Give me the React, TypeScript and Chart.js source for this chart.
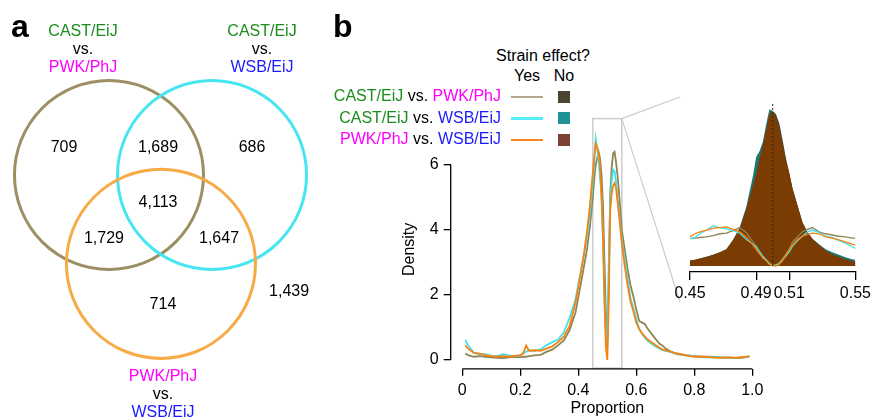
import React, { useEffect, useRef } from "react";
import { Chart, registerables } from "chart.js";
Chart.register(...registerables);

const FONT = '"Liberation Sans", Arial, Helvetica, sans-serif';
const GREEN = "#1c8c1c";
const MAGENTA = "#ff00ff";
const BLUE = "#1a1aff";

// ---------------- Panel a : Venn diagram ----------------
const VENN_CENTER_X = [0, 1.09, 0.55];
const VENN_CENTER_Y = [0, 0, -0.94];
const VENN_RADIUS = [1, 1, 1];
const VENN_COLORS = ["#9d8f64", "#45e6f2", "#f6ab46"];
const VENN_COUNTS = ["709", "1,689", "686", "4,113", "1,729", "1,647", "714", "1,439"];
const VENN_COUNT_X = [-0.476, 0.519, 1.513, 0.519, -0.053, 1.164, 0.571, 1.905];
const VENN_COUNT_Y = [0.286, 0.286, 0.286, -0.296, -0.677, -0.677, -1.376, -1.238];
const VENN_X_RANGE = [-1.153, 2.444];
const VENN_Y_RANGE = [-2.571, 1.852];

// ---------------- Panel b : density ----------------
const PROPORTION = [
  0.01, 0.02, 0.04, 0.06, 0.08, 0.10, 0.12, 0.14, 0.16, 0.18,
  0.20, 0.21, 0.22, 0.23, 0.25, 0.27, 0.29, 0.31, 0.33, 0.35,
  0.37, 0.39, 0.41, 0.42, 0.43, 0.44, 0.45, 0.455, 0.46, 0.465,
  0.47, 0.475, 0.48, 0.485, 0.49, 0.495, 0.50, 0.505, 0.51, 0.515,
  0.52, 0.525, 0.53, 0.535, 0.54, 0.55, 0.56, 0.57, 0.58, 0.59,
  0.60, 0.61, 0.62, 0.63, 0.64, 0.66, 0.68, 0.69, 0.70, 0.72,
  0.74, 0.77, 0.80, 0.83, 0.86, 0.89, 0.92, 0.95, 0.98, 0.99,
];
const DENS_PWK_WSB = [
  0.45, 0.35, 0.22, 0.20, 0.14, 0.12, 0.10, 0.12, 0.10, 0.13,
  0.15, 0.20, 0.45, 0.28, 0.30, 0.28, 0.35, 0.42, 0.55, 0.72,
  1.05, 1.75, 2.75, 3.30, 3.95, 4.75, 5.75, 6.25, 6.65, 6.55,
  6.35, 6.00, 5.00, 3.80, 1.90, 0.40, 0.00, 1.80, 4.60, 5.10,
  5.35, 5.44, 5.30, 4.90, 4.50, 3.60, 2.90, 2.30, 1.80, 1.50,
  1.15, 0.95, 0.82, 0.72, 0.62, 0.50, 0.38, 0.32, 0.30, 0.25,
  0.20, 0.15, 0.10, 0.10, 0.08, 0.07, 0.08, 0.07, 0.10, 0.12,
];
const DENS_CAST_WSB = [
  0.62, 0.45, 0.22, 0.18, 0.18, 0.13, 0.12, 0.18, 0.14, 0.12,
  0.14, 0.22, 0.25, 0.30, 0.28, 0.33, 0.45, 0.55, 0.62, 0.85,
  1.30, 1.85, 2.80, 3.25, 3.80, 4.50, 5.50, 6.10, 6.80, 6.50,
  6.10, 5.60, 5.10, 3.80, 2.00, 0.90, 0.40, 3.00, 4.80, 5.50,
  5.85, 5.80, 5.50, 5.00, 4.60, 3.70, 3.10, 2.50, 1.90, 1.60,
  1.25, 0.95, 0.80, 0.68, 0.58, 0.45, 0.35, 0.30, 0.28, 0.24,
  0.20, 0.15, 0.12, 0.08, 0.09, 0.08, 0.06, 0.07, 0.09, 0.12,
];
const DENS_CAST_PWK = [
  0.20, 0.15, 0.10, 0.12, 0.10, 0.08, 0.07, 0.06, 0.08, 0.10,
  0.09, 0.10, 0.10, 0.12, 0.14, 0.16, 0.25, 0.32, 0.45, 0.60,
  0.92, 1.45, 2.40, 2.90, 3.40, 4.10, 5.00, 5.55, 6.00, 6.20,
  6.40, 6.20, 5.70, 4.80, 3.10, 1.50, 0.60, 2.50, 5.10, 5.90,
  6.35, 6.40, 6.10, 5.70, 5.20, 4.00, 3.40, 2.80, 2.30, 1.95,
  1.55, 1.20, 1.15, 1.10, 0.95, 0.72, 0.50, 0.45, 0.36, 0.25,
  0.18, 0.14, 0.12, 0.10, 0.10, 0.08, 0.07, 0.06, 0.09, 0.11,
];
const X_RANGE = [-0.04, 1.04];
const Y_RANGE = [-0.27, 7.07];
const X_TICKS = [0, 0.2, 0.4, 0.6, 0.8, 1.0];
const X_TICK_LABELS = ["0", "0.2", "0.4", "0.6", "0.8", "1.0"];
const Y_TICKS = [0, 2, 4, 6];
const Y_TICK_LABELS = ["0", "2", "4", "6"];
const ZOOM_X = [0.45, 0.55];
const ZOOM_Y = [-0.25, 7.42];

// ---------------- Inset ----------------
const INSET_X = [
  0.450, 0.453, 0.456, 0.460, 0.464, 0.468, 0.472, 0.476, 0.480, 0.484,
  0.488, 0.490, 0.492, 0.494, 0.496, 0.498, 0.500, 0.502, 0.504, 0.506,
  0.508, 0.510, 0.512, 0.515, 0.518, 0.521, 0.524, 0.528, 0.532, 0.536,
  0.540, 0.544, 0.548, 0.550,
];
const INSET_NO_PWK_WSB = [
  0.9, 1.0, 1.2, 1.5, 1.8, 2.2, 2.7, 4.2, 6.0, 9.2,
  13.0, 15.0, 17.3, 19.5, 22.0, 24.5, 25.0, 23.8, 22.0, 19.5,
  17.0, 15.0, 12.5, 9.8, 7.0, 5.5, 4.4, 3.4, 2.5, 1.9,
  1.5, 1.1, 0.8, 0.7,
];
const INSET_NO_CAST_WSB = [
  0.9, 1.0, 1.2, 1.5, 1.8, 2.2, 2.7, 4.2, 6.2, 9.5,
  14.5, 17.6, 18.5, 20.0, 22.8, 25.3, 25.0, 23.6, 21.8, 19.3,
  16.8, 14.8, 12.4, 9.7, 7.0, 5.5, 4.4, 3.5, 2.7, 2.2,
  1.8, 1.4, 1.1, 1.0,
];
const INSET_NO_CAST_PWK = [
  0.8, 0.9, 1.1, 1.4, 1.7, 2.1, 2.6, 4.0, 5.8, 9.0,
  12.8, 14.8, 17.0, 19.2, 21.8, 24.3, 25.0, 24.5, 23.0, 20.3,
  17.4, 15.0, 12.4, 9.6, 6.9, 5.4, 4.3, 3.3, 2.4, 1.8,
  1.4, 1.0, 0.7, 0.6,
];
const INSET_YES_PWK_WSB = [
  4.7, 5.2, 5.5, 5.8, 6.1, 6.2, 6.3, 5.9, 5.5, 4.7,
  3.4, 2.7, 2.0, 1.3, 0.9, 0.3, 0.05, 0.0, 0.3, 0.9,
  1.8, 2.7, 3.4, 4.3, 4.8, 5.1, 5.3, 5.2, 4.7, 4.5,
  4.2, 3.9, 3.5, 3.4,
];
const INSET_YES_CAST_WSB = [
  4.4, 4.6, 5.2, 5.8, 6.5, 6.2, 6.0, 5.7, 5.3, 4.3,
  3.5, 3.1, 2.3, 1.6, 1.0, 0.4, 0.15, 0.1, 0.4, 1.0,
  1.6, 2.3, 3.2, 4.1, 4.8, 5.5, 5.8, 5.4, 4.8, 4.6,
  4.1, 3.7, 3.1, 2.8,
];
const INSET_YES_CAST_PWK = [
  4.4, 4.5, 4.6, 4.7, 4.9, 5.2, 5.3, 5.7, 6.2, 5.4,
  3.9, 3.2, 2.3, 1.5, 0.9, 0.3, 0.05, 0.2, 0.5, 1.2,
  1.9, 2.7, 3.9, 4.7, 5.5, 5.9, 6.2, 5.5, 5.2, 5.0,
  4.8, 4.7, 4.5, 4.5,
];
const INSET_X_RANGE = [0.45, 0.55];
const INSET_Y_RANGE = [-0.97, 26.3];
const INSET_MARK = 0.5;
const INSET_TICKS = [0.45, 0.49, 0.51, 0.55];
const INSET_TICK_LABELS = ["0.45", "0.49", "0.51", "0.55"];

// colours
const C_OLIVE = "#8f8455";
const C_CYAN = "#3fe4ee";
const C_ORANGE = "#f7820f";
const F_OLIVE = "#4b4630";
const F_TEAL = "#1b7878";
const F_BROWN = "#7a3c02";

// layout of canvases (page px)
const VENN_BOX = { left: 0, top: 0, width: 340, height: 418 };
const MAIN_BOX = { left: 380, top: 90, width: 400, height: 328 };
const INSET_BOX = { left: 660, top: 90, width: 215, height: 220 };
const CONNECT_X = 680;
const CONNECT_Y = [97, 302];

const pts = (xs: number[], ys: number[]) => xs.map((x, i) => ({ x, y: ys[i] }));

const tickFont = { family: FONT, size: 16 };

// draws each Venn set as a circle through the chart's scales, then the region counts
const vennDraw = {
  id: "vennDraw",
  afterDatasetsDraw(chart: any) {
    const { ctx, scales } = chart;
    const { x, y } = scales;
    ctx.save();
    VENN_CENTER_X.forEach((cx, i) => {
      const px = x.getPixelForValue(cx);
      const py = y.getPixelForValue(VENN_CENTER_Y[i]);
      const r = Math.abs(x.getPixelForValue(cx + VENN_RADIUS[i]) - px);
      ctx.beginPath();
      ctx.arc(px, py, r, 0, Math.PI * 2);
      ctx.strokeStyle = VENN_COLORS[i];
      ctx.lineWidth = 3;
      ctx.stroke();
    });
    ctx.font = `16px ${FONT}`;
    ctx.fillStyle = "#000";
    ctx.textAlign = "center";
    ctx.textBaseline = "middle";
    VENN_COUNTS.forEach((t, i) => {
      ctx.fillText(t, x.getPixelForValue(VENN_COUNT_X[i]), y.getPixelForValue(VENN_COUNT_Y[i]));
    });
    ctx.restore();
  },
};

const mainDecor = {
  id: "mainDecor",
  beforeDatasetsDraw(chart: any) {
    const { ctx, scales } = chart;
    const { x, y } = scales;
    ctx.save();
    ctx.strokeStyle = "#cccccc";
    ctx.lineWidth = 1.5;
    const x0 = x.getPixelForValue(ZOOM_X[0]);
    const x1 = x.getPixelForValue(ZOOM_X[1]);
    const yt = y.getPixelForValue(ZOOM_Y[1]);
    const yb = y.getPixelForValue(ZOOM_Y[0]);
    ctx.strokeRect(x0, yt, x1 - x0, yb - yt);
    ctx.lineWidth = 1.2;
    ctx.beginPath();
    ctx.moveTo(x1, yt);
    ctx.lineTo(CONNECT_X - MAIN_BOX.left, CONNECT_Y[0] - MAIN_BOX.top);
    ctx.moveTo(x1, yt);
    ctx.lineTo(CONNECT_X - MAIN_BOX.left, CONNECT_Y[1] - MAIN_BOX.top);
    ctx.stroke();
    ctx.restore();
  },
  afterDraw(chart: any) {
    const { ctx, chartArea, scales } = chart;
    const { x, y } = scales;
    ctx.save();
    ctx.strokeStyle = "#000";
    ctx.lineWidth = 1.3;
    ctx.beginPath();
    ctx.moveTo(x.getPixelForValue(X_TICKS[0]), chartArea.bottom);
    ctx.lineTo(x.getPixelForValue(X_TICKS[X_TICKS.length - 1]), chartArea.bottom);
    ctx.moveTo(chartArea.left, y.getPixelForValue(Y_TICKS[0]));
    ctx.lineTo(chartArea.left, y.getPixelForValue(Y_TICKS[Y_TICKS.length - 1]));
    ctx.stroke();
    ctx.restore();
  },
};

function vennConfig(): any {
  return {
    type: "scatter",
    data: {
      datasets: VENN_CENTER_X.map((cx, i) => ({
        label: `set${i}`,
        data: [{ x: cx, y: VENN_CENTER_Y[i] }],
        pointRadius: 0,
        borderColor: VENN_COLORS[i],
        backgroundColor: VENN_COLORS[i],
      })),
    },
    options: {
      responsive: false,
      animation: false,
      events: [],
      layout: { padding: 0 },
      plugins: { legend: { display: false }, tooltip: { enabled: false } },
      scales: {
        x: { type: "linear", display: false, min: VENN_X_RANGE[0], max: VENN_X_RANGE[1] },
        y: { type: "linear", display: false, min: VENN_Y_RANGE[0], max: VENN_Y_RANGE[1] },
      },
    },
    plugins: [vennDraw],
  };
}

function mainConfig(): any {
  const line = (label: string, ys: number[], color: string, order: number) => ({
    label,
    data: pts(PROPORTION, ys),
    borderColor: color,
    backgroundColor: color,
    borderWidth: 1.8,
    pointRadius: 0,
    tension: 0,
    fill: false,
    order,
  });
  return {
    type: "line",
    data: {
      datasets: [
        line("PWK/PhJ vs. WSB/EiJ", DENS_PWK_WSB, C_ORANGE, 0),
        line("CAST/EiJ vs. WSB/EiJ", DENS_CAST_WSB, C_CYAN, 1),
        line("CAST/EiJ vs. PWK/PhJ", DENS_CAST_PWK, C_OLIVE, 2),
      ],
    },
    options: {
      responsive: false,
      animation: false,
      events: [],
      layout: { padding: { left: 0, right: 16.1, top: 40, bottom: 0 } },
      plugins: { legend: { display: false }, tooltip: { enabled: false } },
      scales: {
        x: {
          type: "linear",
          min: X_RANGE[0],
          max: X_RANGE[1],
          afterBuildTicks: (s: any) => { s.ticks = X_TICKS.map((v) => ({ value: v })); },
          afterFit: (s: any) => { s.height = 49.2; },
          ticks: {
            callback: (_v: any, i: number) => X_TICK_LABELS[i],
            autoSkip: false, maxRotation: 0, padding: 5, color: "#000", font: tickFont,
          },
          grid: { drawOnChartArea: false, drawTicks: true, tickLength: 7, color: "#000", lineWidth: 1.3 },
          border: { display: false },
          title: { display: true, text: "Proportion", color: "#000", font: tickFont, padding: { top: 0, bottom: 0 } },
        },
        y: {
          type: "linear",
          min: Y_RANGE[0],
          max: Y_RANGE[1],
          afterBuildTicks: (s: any) => { s.ticks = Y_TICKS.map((v) => ({ value: v })); },
          afterFit: (s: any) => { s.width = 70.7; },
          ticks: {
            callback: (_v: any, i: number) => Y_TICK_LABELS[i],
            autoSkip: false, padding: 5, color: "#000", font: tickFont,
          },
          grid: { drawOnChartArea: false, drawTicks: true, tickLength: 7, color: "#000", lineWidth: 1.3 },
          border: { display: false },
          title: { display: true, text: "Density", color: "#000", font: tickFont, padding: { top: 20, bottom: 0 } },
        },
      },
    },
    plugins: [mainDecor],
  };
}

function insetConfig(): any {
  const line = (label: string, ys: number[], color: string, order: number) => ({
    label,
    data: pts(INSET_X, ys),
    borderColor: color,
    borderWidth: 1.3,
    pointRadius: 0,
    tension: 0,
    fill: false,
    order,
  });
  const area = (label: string, ys: number[], color: string, order: number) => ({
    label,
    data: pts(INSET_X, ys),
    borderWidth: 0,
    borderColor: color,
    backgroundColor: color,
    pointRadius: 0,
    tension: 0,
    fill: "origin",
    order,
  });
  return {
    type: "line",
    data: {
      datasets: [
        {
          label: "mark",
          data: [{ x: INSET_MARK, y: 0 }, { x: INSET_MARK, y: INSET_Y_RANGE[1] }],
          borderColor: "#222",
          borderWidth: 1,
          borderDash: [2, 2],
          pointRadius: 0,
          fill: false,
          order: 0,
        },
        line("PWK/PhJ vs. WSB/EiJ yes", INSET_YES_PWK_WSB, C_ORANGE, 1),
        line("CAST/EiJ vs. WSB/EiJ yes", INSET_YES_CAST_WSB, C_CYAN, 2),
        line("CAST/EiJ vs. PWK/PhJ yes", INSET_YES_CAST_PWK, C_OLIVE, 3),
        area("PWK/PhJ vs. WSB/EiJ no", INSET_NO_PWK_WSB, F_BROWN, 4),
        area("CAST/EiJ vs. WSB/EiJ no", INSET_NO_CAST_WSB, F_TEAL, 5),
        area("CAST/EiJ vs. PWK/PhJ no", INSET_NO_CAST_PWK, F_OLIVE, 6),
      ],
    },
    options: {
      responsive: false,
      animation: false,
      events: [],
      layout: { padding: { left: 30, right: 16, top: 13, bottom: 0 } },
      plugins: { legend: { display: false }, tooltip: { enabled: false } },
      scales: {
        x: {
          type: "linear",
          min: INSET_X_RANGE[0],
          max: INSET_X_RANGE[1],
          afterBuildTicks: (s: any) => { s.ticks = INSET_TICKS.map((v) => ({ value: v })); },
          afterFit: (s: any) => { s.height = 38; },
          ticks: {
            callback: (_v: any, i: number) => INSET_TICK_LABELS[i],
            autoSkip: false, maxRotation: 0, padding: 4, color: "#000", font: tickFont,
          },
          grid: { drawOnChartArea: false, drawTicks: true, tickLength: 8, color: "#000", lineWidth: 1.3 },
          border: { display: true, color: "#000", width: 1.3 },
        },
        y: { type: "linear", display: false, min: INSET_Y_RANGE[0], max: INSET_Y_RANGE[1] },
      },
    },
  };
}

const LH = 18;
function Label(props: { x: number; baseline: number; align?: "center" | "right" | "left"; children: any; style?: any }) {
  const { x, baseline, align = "center", children, style } = props;
  const tx = align === "center" ? "-50%" : align === "right" ? "-100%" : "0";
  return (
    <div
      style={{
        position: "absolute",
        left: x,
        top: baseline - 14.5,
        transform: `translateX(${tx})`,
        whiteSpace: "nowrap",
        fontSize: 16,
        lineHeight: `${LH}px`,
        textAlign: align,
        color: "#000",
        ...style,
      }}
    >
      {children}
    </div>
  );
}

const LEGEND_ROWS = [
  { a: "CAST/EiJ", ac: GREEN, b: "PWK/PhJ", bc: MAGENTA, line: "#b2a98c", fill: "#4b4530" },
  { a: "CAST/EiJ", ac: GREEN, b: "WSB/EiJ", bc: BLUE, line: "#55eef7", fill: "#1f9494" },
  { a: "PWK/PhJ", ac: MAGENTA, b: "WSB/EiJ", bc: BLUE, line: "#f5861c", fill: "#7c4232" },
];
const LEGEND_BASELINES = [101.7, 123.3, 144.8];

export default function App() {
  const vennRef = useRef<HTMLCanvasElement>(null);
  const mainRef = useRef<HTMLCanvasElement>(null);
  const insetRef = useRef<HTMLCanvasElement>(null);

  useEffect(() => {
    Chart.defaults.font.family = FONT;
    Chart.defaults.font.size = 16;
    Chart.defaults.color = "#000";
    const charts = [
      new Chart(vennRef.current as HTMLCanvasElement, vennConfig()),
      new Chart(mainRef.current as HTMLCanvasElement, mainConfig()),
      new Chart(insetRef.current as HTMLCanvasElement, insetConfig()),
    ];
    return () => charts.forEach((c) => c.destroy());
  }, []);

  const cv = (box: any) => ({ position: "absolute" as const, left: box.left, top: box.top, width: box.width, height: box.height });

  return (
    <div style={{ position: "absolute", left: 0, top: 0, width: 875, height: 418, background: "#fff", fontFamily: FONT, overflow: "hidden" }}>
      <canvas ref={vennRef} width={VENN_BOX.width} height={VENN_BOX.height} style={cv(VENN_BOX)} />
      <canvas ref={mainRef} width={MAIN_BOX.width} height={MAIN_BOX.height} style={cv(MAIN_BOX)} />
      <canvas ref={insetRef} width={INSET_BOX.width} height={INSET_BOX.height} style={cv(INSET_BOX)} />

      {/* panel letters */}
      <div style={{ position: "absolute", left: 11, top: 10, fontSize: 32, lineHeight: "32px", fontWeight: "bold" }}>a</div>
      <div style={{ position: "absolute", left: 333, top: 10, fontSize: 32, lineHeight: "32px", fontWeight: "bold" }}>b</div>

      {/* Venn set labels */}
      <Label x={83} baseline={36}><span style={{ color: GREEN }}>CAST/EiJ</span><br />vs.<br /><span style={{ color: MAGENTA }}>PWK/PhJ</span></Label>
      <Label x={262} baseline={36}><span style={{ color: GREEN }}>CAST/EiJ</span><br />vs.<br /><span style={{ color: BLUE }}>WSB/EiJ</span></Label>
      <Label x={163} baseline={381.5}><span style={{ color: MAGENTA }}>PWK/PhJ</span><br />vs.<br /><span style={{ color: BLUE }}>WSB/EiJ</span></Label>

      {/* legend */}
      <Label x={543} baseline={61.7}>Strain effect?</Label>
      <Label x={527} baseline={81.7}>Yes</Label>
      <Label x={564} baseline={81.7}>No</Label>
      {LEGEND_ROWS.map((r, i) => (
        <React.Fragment key={i}>
          <Label x={501} baseline={LEGEND_BASELINES[i]} align="right">
            <span style={{ color: r.ac }}>{r.a}</span> vs. <span style={{ color: r.bc }}>{r.b}</span>
          </Label>
          <div style={{ position: "absolute", left: 511, top: LEGEND_BASELINES[i] - 6.2, width: 32, height: 2.5, background: r.line }} />
          <div style={{ position: "absolute", left: 558, top: LEGEND_BASELINES[i] - 11, width: 12, height: 12, background: r.fill }} />
        </React.Fragment>
      ))}
    </div>
  );
}
